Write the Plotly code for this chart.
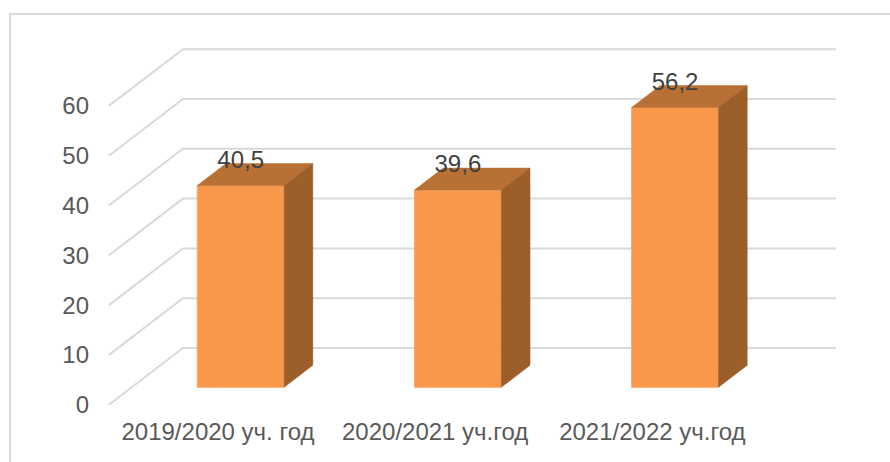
import plotly.graph_objects as go

categories = ["2019/2020 уч. год", "2020/2021 уч.год", "2021/2022 уч.год"]
values = [40.5, 39.6, 56.2]
value_labels = ["40,5", "39,6", "56,2"]
y_ticks = [0, 10, 20, 30, 40, 50, 60]

# Oblique projection of the 3D look, in axis units
DX, DY = 0.3407, 11.385      # shift from the front plane to the back wall
D0, D1 = 0.307, 0.695        # bar front and rear, as a fraction of the depth
BAR_W = 0.40
WALL_L, WALL_R = -0.502, 2.845
LABEL_UP = 4.8

FRONT, TOP, SIDE = "#F9974A", "#B97034", "#9C5F2A"
GRID, TICK, LABEL = "#D9D9D9", "#595959", "#404040"
FONT = "Liberation Sans"
FONT_SIZE = 24

fig = go.Figure()
positions = list(range(len(categories)))
base = D0 * DY
front_x = [p + D0 * DX for p in positions]

fig.add_trace(go.Bar(
    x=front_x, y=values, base=[base] * len(values), width=BAR_W,
    marker=dict(color=FRONT, line=dict(color="#F9A86C", width=1)),
    hoverinfo="skip", showlegend=False))

ddx, ddy = (D1 - D0) * DX, (D1 - D0) * DY
for cx, v in zip(front_x, values):
    l, r, t = cx - BAR_W / 2, cx + BAR_W / 2, v + base
    fig.add_trace(go.Scatter(
        x=[l, r, r + ddx, l + ddx, l], y=[t, t, t + ddy, t + ddy, t],
        fill="toself", fillcolor=TOP, mode="lines", line=dict(color=TOP, width=0.5),
        hoverinfo="skip", showlegend=False))
    fig.add_trace(go.Scatter(
        x=[r, r + ddx, r + ddx, r, r], y=[base, base + ddy, t + ddy, t, base],
        fill="toself", fillcolor=SIDE, mode="lines", line=dict(color=SIDE, width=0.5),
        hoverinfo="skip", showlegend=False))

fig.add_trace(go.Scatter(
    x=front_x, y=[v + base + LABEL_UP for v in values], text=value_labels,
    mode="text", textposition="middle center",
    textfont=dict(family=FONT, size=FONT_SIZE, color=LABEL),
    hoverinfo="skip", showlegend=False, cliponaxis=False))

shapes = []
for v in y_ticks:
    path = f"M {WALL_L} {v} L {WALL_L + DX} {v + DY} L {WALL_R} {v + DY}"
    shapes.append(dict(type="path", path=path, xref="x", yref="y", layer="below",
                       line=dict(color=GRID, width=2)))

W, H = 890, 462
ML, MR, MT, MB = 92, 45, 30, 47
pw, ph = W - ML - MR, H - MT - MB
fx = lambda px: (px - ML) / pw
fy = lambda py: 1 - (py - MT) / ph
shapes.append(dict(type="path", xref="paper", yref="paper", layer="below",
                   path=f"M {fx(10)} {fy(462)} L {fx(10)} {fy(14)} L {fx(890)} {fy(14)}",
                   line=dict(color=GRID, width=2)))

fig.update_layout(
    width=W, height=H, margin=dict(l=ML, r=MR, t=MT, b=MB),
    paper_bgcolor="white", plot_bgcolor="rgba(0,0,0,0)", showlegend=False,
    shapes=shapes,
    xaxis=dict(range=[-0.580, 2.887], tickvals=positions, ticktext=categories,
               showgrid=False, zeroline=False, showline=False, ticks="",
               tickfont=dict(family=FONT, size=FONT_SIZE, color=TICK), tickangle=0),
    yaxis=dict(range=[-2.068, 75.24], tickvals=y_ticks, showgrid=False, zeroline=False,
               showline=False, ticks="", ticklabelstandoff=2,
               tickfont=dict(family=FONT, size=FONT_SIZE, color=TICK)),
)
fig.write_html("out.html", config={"displayModeBar": False},
               post_script="document.body.style.margin='0';")
